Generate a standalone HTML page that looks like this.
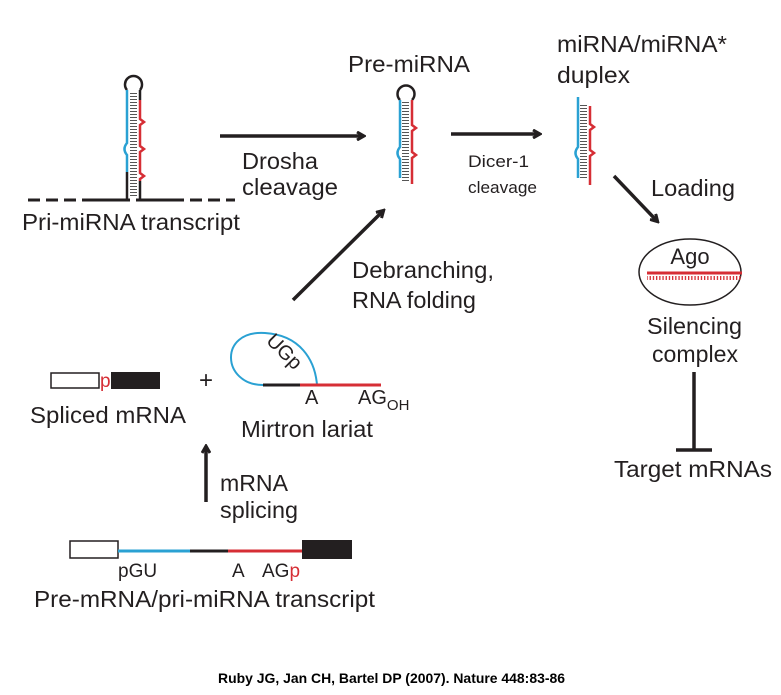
<!DOCTYPE html>
<html><head><meta charset="utf-8"><style>
body{margin:0;background:#fff}
svg{display:block}
text{font-family:"Liberation Sans",Arial,sans-serif;fill:#231f20}
</style></head><body>
<svg width="781" height="695" viewBox="0 0 781 695" xmlns="http://www.w3.org/2000/svg">
<defs>
<marker id="ah" markerWidth="10" markerHeight="10" refX="7" refY="5" orient="auto" markerUnits="userSpaceOnUse">
<path d="M1,1 L8,5 L1,9" fill="none" stroke="#231f20" stroke-width="3"/>
</marker>
<pattern id="tk" width="3" height="3" patternUnits="userSpaceOnUse"><rect width="3" height="1" fill="#555"/></pattern>
<pattern id="tv" width="3.2" height="6" patternUnits="userSpaceOnUse"><rect width="1.3" height="6" fill="#d62e35"/></pattern>
</defs>

<!-- Pri-miRNA -->
<line x1="28" y1="200" x2="235" y2="200" stroke="#231f20" stroke-width="3" stroke-dasharray="12,6"/>
<line x1="88" y1="200" x2="128" y2="200" stroke="#231f20" stroke-width="3"/>
<line x1="139" y1="200" x2="180" y2="200" stroke="#231f20" stroke-width="3"/>
<rect x="130" y="92" width="7" height="106" fill="url(#tk)"/>
<path d="M127,90 A8.5,8.5 0 1 1 140,90" fill="none" stroke="#231f20" stroke-width="2.5"/>
<path d="M127,90 V143 q-5,6 0,12 V172" fill="none" stroke="#2aa1d3" stroke-width="2.5"/>
<path d="M127,172 V201" fill="none" stroke="#231f20" stroke-width="2.5"/>
<path d="M140,90 V100" fill="none" stroke="#231f20" stroke-width="2.5"/>
<path d="M140,100 V119 l4,3 l-4,3 V146 l4,3 l-4,3 V173 l4,3 l-4,3 V181" fill="none" stroke="#d62e35" stroke-width="2.5"/>
<path d="M140,181 V201" fill="none" stroke="#231f20" stroke-width="2.5"/>
<text x="22" y="230" font-size="23" textLength="218" lengthAdjust="spacingAndGlyphs">Pri-miRNA transcript</text>

<!-- Drosha arrow -->
<line x1="220" y1="136" x2="363" y2="136" stroke="#231f20" stroke-width="3.5" marker-end="url(#ah)"/>
<text x="242" y="169" font-size="23" textLength="76" lengthAdjust="spacingAndGlyphs">Drosha</text>
<text x="242" y="195" font-size="23" textLength="96" lengthAdjust="spacingAndGlyphs">cleavage</text>

<!-- Pre-miRNA -->
<text x="348" y="72" font-size="23" textLength="122" lengthAdjust="spacingAndGlyphs">Pre-miRNA</text>
<rect x="402" y="101" width="7" height="80" fill="url(#tk)"/>
<path d="M400,100 A8.5,8.5 0 1 1 412,100" fill="none" stroke="#231f20" stroke-width="2.5"/>
<path d="M400,100 V147 q-5,6 0,12 V178" fill="none" stroke="#2aa1d3" stroke-width="2.5"/>
<path d="M412,100 V125 l4,3 l-4,3 V152 l4,3 l-4,3 V184" fill="none" stroke="#d62e35" stroke-width="2.5"/>

<!-- Dicer arrow -->
<line x1="451" y1="134" x2="539" y2="134" stroke="#231f20" stroke-width="3.5" marker-end="url(#ah)"/>
<text x="468" y="167" font-size="17" textLength="61" lengthAdjust="spacingAndGlyphs">Dicer-1</text>
<text x="468" y="193" font-size="17" textLength="69" lengthAdjust="spacingAndGlyphs">cleavage</text>

<!-- Duplex -->
<text x="557" y="52" font-size="23" textLength="170" lengthAdjust="spacingAndGlyphs">miRNA/miRNA*</text>
<text x="557" y="83" font-size="23" textLength="73" lengthAdjust="spacingAndGlyphs">duplex</text>
<rect x="580" y="105" width="7" height="75" fill="url(#tk)"/>
<path d="M578,97 V147 q-5,6 0,12 V178" fill="none" stroke="#2aa1d3" stroke-width="2.5"/>
<path d="M590,106 V124 l4,3 l-4,3 V150 l4,3 l-4,3 V185" fill="none" stroke="#d62e35" stroke-width="2.5"/>

<!-- Loading -->
<line x1="614" y1="176" x2="657" y2="221" stroke="#231f20" stroke-width="3.5" marker-end="url(#ah)"/>
<text x="651" y="196" font-size="23" textLength="84" lengthAdjust="spacingAndGlyphs">Loading</text>
<ellipse cx="690" cy="272" rx="51" ry="33" fill="none" stroke="#231f20" stroke-width="1.5"/>
<text x="690" y="264" font-size="22" text-anchor="middle">Ago</text>
<line x1="647" y1="273" x2="742" y2="273" stroke="#d62e35" stroke-width="3"/>
<rect x="647" y="276" width="95" height="4" fill="url(#tv)"/>
<text x="647" y="334" font-size="23" textLength="95" lengthAdjust="spacingAndGlyphs">Silencing</text>
<text x="652" y="362" font-size="23" textLength="86" lengthAdjust="spacingAndGlyphs">complex</text>
<line x1="694" y1="372" x2="694" y2="450" stroke="#231f20" stroke-width="3.5"/>
<line x1="676" y1="450" x2="712" y2="450" stroke="#231f20" stroke-width="3.5"/>
<text x="614" y="477" font-size="23" textLength="158" lengthAdjust="spacingAndGlyphs">Target mRNAs</text>

<!-- Debranching arrow -->
<line x1="293" y1="300" x2="383" y2="211" stroke="#231f20" stroke-width="3.5" marker-end="url(#ah)"/>
<text x="352" y="278" font-size="23" textLength="142" lengthAdjust="spacingAndGlyphs">Debranching,</text>
<text x="352" y="308" font-size="23" textLength="124" lengthAdjust="spacingAndGlyphs">RNA folding</text>

<!-- Spliced mRNA -->
<rect x="51" y="373" width="48" height="15" fill="#fff" stroke="#231f20" stroke-width="1.5"/>
<text x="100" y="387" font-size="19" style="fill:#d62e35">p</text>
<rect x="111" y="372" width="49" height="17" fill="#231f20"/>
<text x="199" y="388" font-size="24">+</text>
<text x="30" y="423" font-size="23" textLength="156" lengthAdjust="spacingAndGlyphs">Spliced mRNA</text>

<!-- Lariat -->
<path d="M263,385 C222,385 218,330 265,333 C300,335 315,360 317,385" fill="none" stroke="#2aa1d3" stroke-width="2"/>
<line x1="263" y1="385" x2="300" y2="385" stroke="#231f20" stroke-width="3"/>
<line x1="300" y1="385" x2="381" y2="385" stroke="#d62e35" stroke-width="3"/>
<text x="284" y="358" font-size="20" text-anchor="middle" transform="rotate(45 284 352)">UGp</text>
<text x="305" y="404" font-size="20">A</text>
<text x="358" y="404" font-size="20">AG<tspan font-size="15" dy="6">OH</tspan></text>
<text x="241" y="437" font-size="23" textLength="132" lengthAdjust="spacingAndGlyphs">Mirtron lariat</text>

<!-- splicing arrow -->
<line x1="206" y1="502" x2="206" y2="447" stroke="#231f20" stroke-width="3.5" marker-end="url(#ah)"/>
<text x="220" y="491" font-size="23" textLength="68" lengthAdjust="spacingAndGlyphs">mRNA</text>
<text x="220" y="518" font-size="23" textLength="78" lengthAdjust="spacingAndGlyphs">splicing</text>

<!-- Pre-mRNA -->
<rect x="70" y="541" width="48" height="17" fill="#fff" stroke="#231f20" stroke-width="1.5"/>
<line x1="118" y1="551" x2="190" y2="551" stroke="#2aa1d3" stroke-width="3"/>
<line x1="190" y1="551" x2="228" y2="551" stroke="#231f20" stroke-width="3"/>
<line x1="228" y1="551" x2="302" y2="551" stroke="#d62e35" stroke-width="3"/>
<rect x="302" y="540" width="50" height="19" fill="#231f20"/>
<text x="118" y="577" font-size="19">pGU</text>
<text x="232" y="577" font-size="19">A</text>
<text x="262" y="577" font-size="19">AG<tspan style="fill:#d62e35">p</tspan></text>
<text x="34" y="607" font-size="23" textLength="341" lengthAdjust="spacingAndGlyphs">Pre-mRNA/pri-miRNA transcript</text>

<text x="218" y="683" font-size="14" font-weight="bold" style="fill:#000" textLength="347" lengthAdjust="spacingAndGlyphs">Ruby JG, Jan CH, Bartel DP (2007). Nature 448:83-86</text>
</svg>
</body></html>
